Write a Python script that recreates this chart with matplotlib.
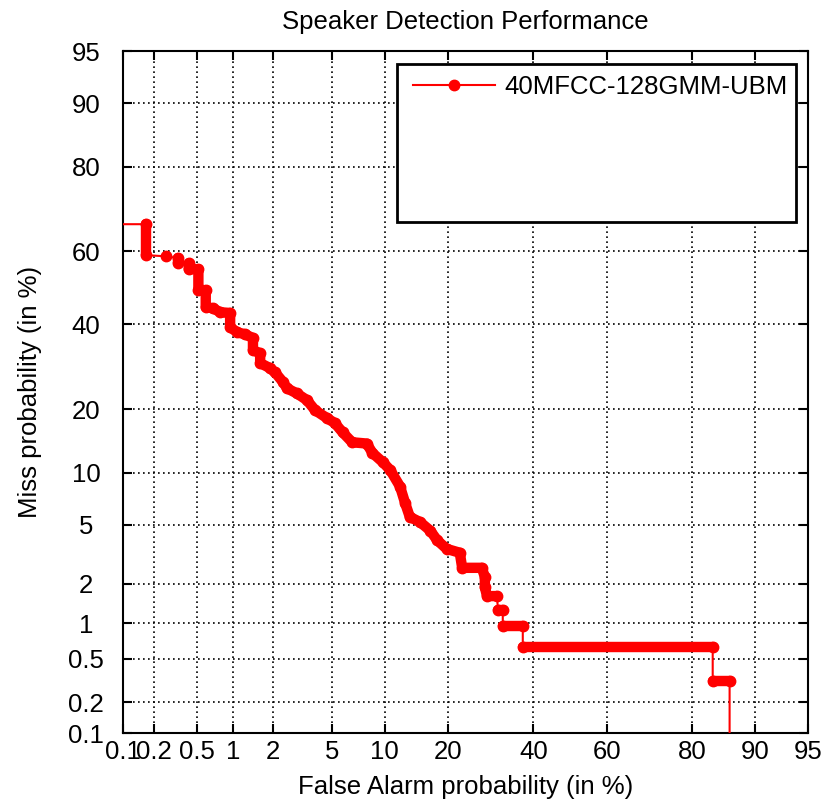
import math
import numpy as np
import matplotlib
matplotlib.use('Agg')
import matplotlib.pyplot as plt
from matplotlib.patches import Rectangle

plt.rcParams['font.family'] = ['Liberation Sans', 'DejaVu Sans']

# DET operating points (percent)
# first Pfa and last Pmiss sit outside the axes (i.e. ~0)
fa = [0.01, 0.17, 0.17, 0.26, 0.34, 0.34, 0.42, 0.42, 0.51, 0.51,
      0.59, 0.59, 0.68, 0.78, 0.94, 0.94, 1.07, 1.23, 1.42, 1.42,
      1.61, 1.61, 1.90, 2.07, 2.36, 2.52, 2.95, 3.45, 3.9, 4.65,
      5.2, 5.8, 6.6, 8.0, 8.6, 9.8, 10.7, 12.0, 12.7, 13.4,
      15.0, 16.7, 17.9, 19.7, 22.3, 22.8, 27.1, 27.8, 27.8, 28.3,
      30.7, 30.9, 32.1, 32.1, 37.2, 37.2, 83.8, 83.8, 86.5, 86.5]
miss = [67.1, 67.1, 59.0, 58.7, 58.2, 56.8, 56.8, 55.2, 55.2, 49.4,
        49.4, 44.7, 44.4, 43.3, 43.1, 39.3, 37.9, 37.4, 36.4, 33.3,
        32.5, 30.1, 28.9, 27.9, 25.7, 24.3, 23.2, 21.8, 19.8, 18.3,
        17.4, 15.8, 14.2, 14.0, 12.6, 11.3, 10.3, 8.4, 6.8, 5.6,
        5.2, 4.6, 4.0, 3.5, 3.3, 2.6, 2.6, 2.24, 1.89, 1.62,
        1.62, 1.27, 1.27, 0.95, 0.95, 0.63, 0.63, 0.32, 0.32, 0.001]
# index ranges where the operating points are packed tightly (drawn as a solid band)
dense = [(1, 2), (4, 5), (6, 50), (51, 52), (53, 54), (55, 56), (57, 58)]

ticks = [0.1, 0.2, 0.5, 1, 2, 5, 10, 20, 40, 60, 80, 90, 95]
tick_labels = ['0.1', '0.2', '0.5', '1', '2', '5', '10', '20', '40', '60', '80', '90', '95']
series_name = '40MFCC-128GMM-UBM'

_erf = np.vectorize(math.erf, otypes=[float])


def dev_to_pct(z):
    return 50.0 * (1.0 + _erf(np.asarray(z, dtype=float) / math.sqrt(2.0)))


def pct_to_dev(p):
    # normal deviate of a percentage, by bisection
    p = np.clip(np.asarray(p, dtype=float), 1e-7, 100 - 1e-7)
    lo = np.full(p.shape, -8.0)
    hi = np.full(p.shape, 8.0)
    for _ in range(55):
        mid = 0.5 * (lo + hi)
        below = dev_to_pct(mid) < p
        lo = np.where(below, mid, lo)
        hi = np.where(below, hi, mid)
    return 0.5 * (lo + hi)


fs = 18.5
fig = plt.figure(figsize=(8.27, 8.09), dpi=100)
ax = fig.add_axes([0.1487, 0.0939, 0.8283, 0.8430])
ax.set_xscale('function', functions=(pct_to_dev, dev_to_pct))
ax.set_yscale('function', functions=(pct_to_dev, dev_to_pct))

for s, e in dense:
    ax.plot(fa[s:e + 1], miss[s:e + 1], color='red', lw=7.5,
            solid_capstyle='round', solid_joinstyle='round', zorder=3)
ax.plot(fa, miss, color='red', lw=1.5, marker='o', ms=7.5, zorder=4,
        label=series_name)

ax.set_xlim(0.1, 95)
ax.set_ylim(0.1, 95)
ax.set_xticks(ticks)
ax.set_xticklabels(tick_labels)
ax.set_yticks(ticks)
ax.set_yticklabels(tick_labels)
ax.minorticks_off()

ax.set_axisbelow(True)
ax.grid(True, color='black', linestyle=(0, (1, 2)), lw=1.2)
ax.tick_params(direction='in', length=6.5, width=1.5, top=True, right=True,
               labelsize=fs)
ax.tick_params(axis='x', pad=5)
ax.tick_params(axis='y', pad=26.5)
for lbl in ax.get_yticklabels():
    lbl.set_horizontalalignment('center')
for sp in ax.spines.values():
    sp.set_linewidth(1.5)

ax.set_title('Speaker Detection Performance', fontsize=fs, pad=16)
ax.set_xlabel('False Alarm probability (in %)', fontsize=fs, labelpad=8)
ax.set_ylabel('Miss probability (in %)', fontsize=fs, labelpad=19)

# legend: oversized white box with the entry at its top
ax.add_patch(Rectangle((0.400, 0.749), 0.5825, 0.232, transform=ax.transAxes,
                       facecolor='white', edgecolor='black', lw=2, zorder=5))
leg = ax.legend(loc='center left', bbox_to_anchor=(0.4234, 0.947), frameon=False,
                fontsize=fs, handlelength=3.2, handletextpad=0.35,
                borderpad=0, borderaxespad=0)
leg.set_zorder(6)

fig.savefig('out.png', dpi=100)
